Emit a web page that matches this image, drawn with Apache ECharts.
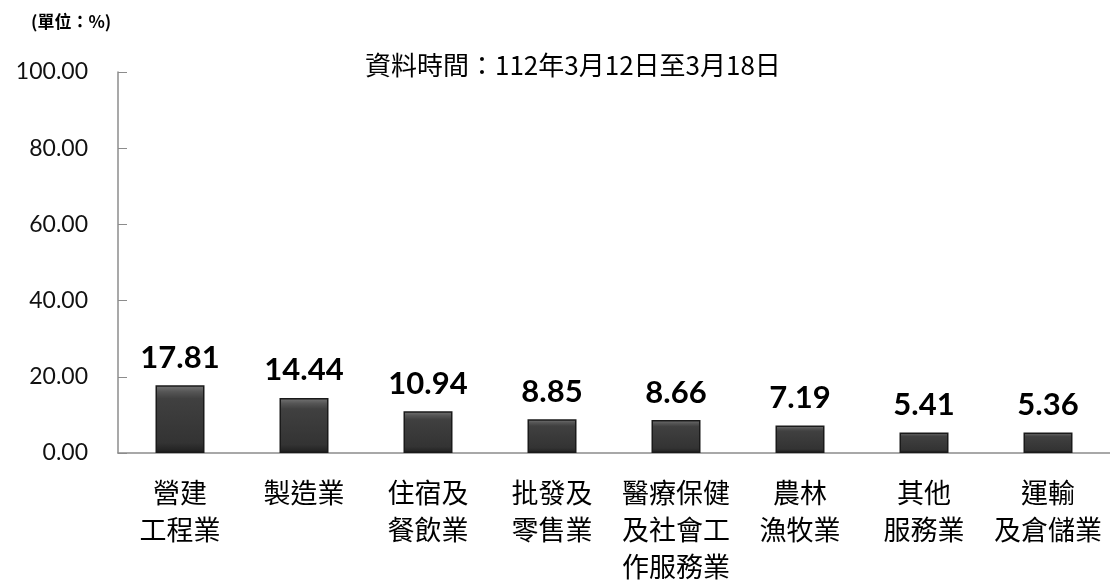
<!DOCTYPE html>
<html>
<head>
<meta charset="utf-8">
<script src="https://cdn.jsdelivr.net/npm/echarts@6/dist/echarts.min.js"></script>
<style>
    html, body { margin: 0; padding: 0; background: #fff; }
    #main { width: 1110px; height: 587px; }
</style>
</head>
<body>
<div id="main"></div>
<script>
// 行業別（分行顯示）
var categories = ['營建\n工程業', '製造業', '住宿及\n餐飲業', '批發及\n零售業', '醫療保健\n及社會工\n作服務業', '農林\n漁牧業', '其他\n服務業', '運輸\n及倉儲業'];
// 比率 (%)
var values = [17.81, 14.44, 10.94, 8.85, 8.66, 7.19, 5.41, 5.36];
var yTicks = [0, 20, 40, 60, 80, 100];

var chart = echarts.init(document.getElementById('main'));

var option = {
    animation: false,
    title: [{
        text: '資料時間：112年3月12日至3月18日',
        left: 360,
        top: 47,
        textStyle: { fontFamily: 'Noto Sans CJK TC', fontSize: 26, fontWeight: 'normal', color: '#000' }
    }, {
        text: '(單位：%)',
        left: 26,
        top: 8,
        textStyle: { fontFamily: 'Noto Sans CJK TC', fontSize: 17, fontWeight: 'bold', color: '#000' }
    }],
    grid: {
        left: 118,
        right: -6,
        top: 72,
        bottom: 134
    },
    xAxis: {
        type: 'category',
        data: categories,
        axisLine: { lineStyle: { color: '#8c8c8c', width: 1.5 } },
        axisTick: { inside: true, length: 9, lineStyle: { color: '#8c8c8c' } },
        axisLabel: {
            interval: 0,
            margin: 21,
            fontFamily: 'Noto Sans CJK TC',
            fontSize: 27,
            lineHeight: 37,
            color: '#000'
        }
    },
    yAxis: {
        type: 'value',
        min: yTicks[0],
        max: yTicks[yTicks.length - 1],
        interval: 20,
        splitLine: { show: false },
        axisLine: { show: true, lineStyle: { color: '#8c8c8c', width: 1.5 } },
        axisTick: { show: true, inside: true, length: 9, lineStyle: { color: '#8c8c8c' } },
        axisLabel: {
            margin: 30,
            fontFamily: 'Lato',
            fontSize: 23,
            color: '#111',
            formatter: function (v) { return v.toFixed(2); }
        }
    },
    series: [{
        type: 'bar',
        data: values,
        barWidth: 49,
        itemStyle: {
            color: new echarts.graphic.LinearGradient(0, 0, 0, 1, [
                { offset: 0, color: '#777' },
                { offset: 0.1, color: '#555' },
                { offset: 0.2, color: '#404040' },
                { offset: 0.85, color: '#333' },
                { offset: 1, color: '#1e1e1e' }
            ]),
            borderColor: '#1a1a1a',
            borderWidth: 1.5
        },
        label: {
            show: true,
            position: 'top',
            distance: 12,
            fontFamily: 'Lato',
            fontWeight: 'bold',
            fontSize: 31,
            color: '#000',
            formatter: function (p) { return p.value.toFixed(2); }
        }
    }]
};

chart.setOption(option);
</script>
</body>
</html>
